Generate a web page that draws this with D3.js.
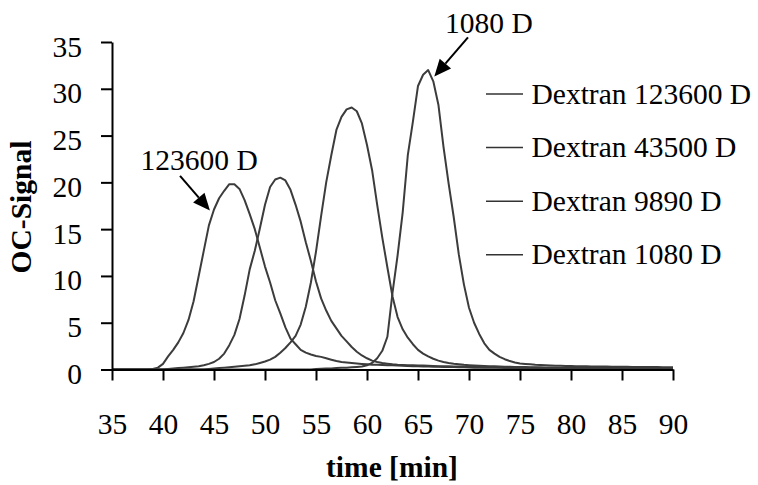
<!DOCTYPE html>
<html>
<head>
<meta charset="utf-8">
<script src="https://cdn.jsdelivr.net/npm/d3@7"></script>
<style>
  html, body { margin: 0; padding: 0; background: #fff; }
  svg text { font-family: "Liberation Serif", "Times New Roman", serif; fill: #000; }
</style>
</head>
<body>
<svg id="chart" width="758" height="485"></svg>
<script>
// ---- data ----
const times = [
  35,35.5,36,36.5,37,37.5,38,38.5,39,39.5,
  40,40.5,41,41.5,42,42.5,43,43.5,44,44.5,
  45,45.5,46,46.5,47,47.5,48,48.5,49,49.5,
  50,50.5,51,51.5,52,52.5,53,53.5,54,54.5,
  55,55.5,56,56.5,57,57.5,58,58.5,59,59.5,
  60,60.5,61,61.5,62,62.5,63,63.5,64,64.5,
  65,65.5,66,66.5,67,67.5,68,68.5,69,69.5,
  70,70.5,71,71.5,72,72.5,73,73.5,74,74.5,
  75,75.5,76,76.5,77,77.5,78,78.5,79,79.5,
  80,80.5,81,81.5,82,82.5,83,83.5,84,84.5,
  85,85.5,86,86.5,87,87.5,88,88.5,89,89.5,
  90
];
const dextran123600 = [
  0,0,0,0,0,0,0,0,0.05,0.2,
  0.6,1.4,2.1,2.9,3.9,5.3,7.3,10.0,12.7,15.4,
  17.1,18.3,19.1,19.8,19.8,19.3,18.1,16.6,15.0,13.0,
  11.0,9.3,7.4,6.0,4.5,3.3,2.7,2.1,1.8,1.6,
  1.45,1.35,1.2,1.05,0.9,0.8,0.75,0.7,0.65,0.6,
  0.55,0.5,0.5,0.48,0.45,0.45,0.42,0.4,0.38,0.36,
  0.35,0.33,0.32,0.3,0.3,0.28,0.27,0.26,0.25,0.24,
  0.22,0.2,0.2,0.2,0.19,0.18,0.18,0.17,0.17,0.16,
  0.16,0.15,0.15,0.15,0.14,0.14,0.13,0.13,0.13,0.12,
  0.12,0.12,0.11,0.11,0.11,0.1,0.1,0.1,0.1,0.1,
  0.1,0.09,0.09,0.09,0.09,0.08,0.08,0.08,0.08,0.08,
  0.08
];
const dextran43500 = [
  0,0,0,0,0,0,0,0,0,0,
  0,0.05,0.1,0.15,0.2,0.25,0.3,0.35,0.45,0.6,
  0.8,1.15,1.7,2.6,3.7,5.4,7.9,10.7,12.7,15.1,
  17.6,19.5,20.3,20.5,20.2,19.2,17.6,15.8,13.6,11.6,
  9.4,7.6,6.3,5.2,4.4,3.6,3.0,2.4,1.9,1.5,
  1.2,0.95,0.8,0.7,0.62,0.55,0.5,0.48,0.46,0.45,
  0.44,0.42,0.4,0.38,0.36,0.35,0.34,0.33,0.32,0.31,
  0.3,0.28,0.26,0.25,0.24,0.23,0.22,0.21,0.2,0.2,
  0.19,0.19,0.18,0.18,0.17,0.17,0.16,0.16,0.15,0.15,
  0.15,0.14,0.14,0.13,0.13,0.13,0.12,0.12,0.12,0.11,
  0.11,0.11,0.1,0.1,0.1,0.1,0.1,0.09,0.09,0.09,
  0.09
];
const dextran9890 = [
  0,0,0,0,0,0,0,0,0,0,
  0,0,0,0,0,0,0,0,0,0.05,
  0.1,0.15,0.2,0.25,0.3,0.35,0.4,0.45,0.55,0.7,
  0.85,1.05,1.35,1.8,2.3,2.9,3.6,4.8,6.7,9.3,
  12.6,16.4,20.0,22.9,25.6,27.0,27.8,28.0,27.6,26.3,
  24.0,21.3,17.6,14.1,10.9,7.8,5.6,4.3,3.4,2.7,
  2.1,1.7,1.4,1.15,0.95,0.8,0.7,0.62,0.56,0.5,
  0.46,0.43,0.4,0.38,0.36,0.34,0.32,0.3,0.29,0.28,
  0.27,0.26,0.25,0.24,0.23,0.22,0.21,0.2,0.2,0.19,
  0.19,0.18,0.18,0.17,0.17,0.16,0.16,0.15,0.15,0.15,
  0.14,0.14,0.14,0.13,0.13,0.13,0.12,0.12,0.12,0.12,
  0.11
];
const dextran1080 = [
  0,0,0,0,0,0,0,0,0,0,
  0,0,0,0,0,0,0,0,0,0,
  0,0,0,0,0,0,0,0,0,0,
  0,0,0,0,0,0,0,0,0,0,
  0.05,0.08,0.1,0.12,0.15,0.18,0.2,0.23,0.27,0.32,
  0.45,0.7,1.2,2.0,3.5,8.2,12.2,16.8,22.9,26.5,
  30.3,31.5,32.0,30.8,28.3,23.8,19.9,16.3,12.3,9.1,
  6.6,5.0,3.8,2.8,2.1,1.7,1.35,1.1,0.9,0.75,
  0.65,0.6,0.55,0.5,0.47,0.45,0.43,0.41,0.4,0.38,
  0.37,0.36,0.35,0.34,0.33,0.32,0.32,0.31,0.3,0.3,
  0.29,0.29,0.28,0.28,0.27,0.27,0.26,0.26,0.25,0.25,
  0.25
];
const seriesNames = ["Dextran 123600 D", "Dextran 43500 D", "Dextran 9890 D", "Dextran 1080 D"];
const seriesValues = [dextran123600, dextran43500, dextran9890, dextran1080];
const xTicks = [35,40,45,50,55,60,65,70,75,80,85,90];
const yTicks = [0,5,10,15,20,25,30,35];
// annotations: [label, textX, textY, arrowFromX, arrowFromY, arrowToX, arrowToY] in data units
const annotations = [
  ["123600 D", 37.8, 21.3, 41.67, 20.7, 44.6, 17.0],
  ["1080 D", 67.65, 36.0, 69.9, 35.5, 66.6, 31.3]
];

// ---- layout ----
const svg = d3.select("#chart");
const FS = 29.5;
const x = d3.scaleLinear().domain([35, 90]).range([112, 673]);
const y = d3.scaleLinear().domain([0, 35]).range([369.5, 42]);
const lineColor = "#3c3c3c";

// curves
const line = d3.line().x((d, i) => x(times[i])).y(d => y(d));
seriesValues.forEach(vals => {
  svg.append("path")
    .attr("d", line(vals))
    .attr("fill", "none")
    .attr("stroke", lineColor)
    .attr("stroke-width", 2)
    .attr("stroke-linejoin", "round");
});

// axes
const yAxis = svg.append("g").attr("transform", `translate(${x(35)},0)`)
  .call(d3.axisLeft(y).tickValues(yTicks).tickFormat(d3.format("d")).tickSize(11).tickSizeOuter(0).tickPadding(19));
yAxis.selectAll("text").attr("dy", 14).style("font-size", FS + "px");

const xAxis = svg.append("g").attr("transform", `translate(0,${y(0)})`)
  .call(d3.axisBottom(x).tickValues(xTicks).tickFormat(d3.format("d")).tickSize(11).tickSizeOuter(0));
xAxis.selectAll("text").attr("y", 64.5).attr("dy", 0).style("font-size", FS + "px");

[yAxis, xAxis].forEach(g => {
  g.select(".domain").attr("stroke", "#000").attr("stroke-width", 2);
  g.selectAll(".tick line").attr("stroke", "#000").attr("stroke-width", 2);
  g.selectAll("text").attr("fill", "#000").style("font-family", '"Liberation Serif", "Times New Roman", serif');
});

// axis titles
svg.append("text")
  .attr("x", 392).attr("y", 477)
  .attr("text-anchor", "middle")
  .style("font-size", FS + "px").style("font-weight", "bold")
  .text("time [min]");
svg.append("text")
  .attr("transform", "translate(31,207) rotate(-90)")
  .attr("text-anchor", "middle")
  .style("font-size", FS + "px").style("font-weight", "bold")
  .text("OC-Signal");

// legend
const legend = svg.append("g");
seriesNames.forEach((name, i) => {
  const ly = 94 + i * 53.6;
  legend.append("line")
    .attr("x1", 486).attr("x2", 523).attr("y1", ly).attr("y2", ly)
    .attr("stroke", "#333").attr("stroke-width", 1.5);
  legend.append("text")
    .attr("x", 531.5).attr("y", ly + 9.5)
    .style("font-size", FS + "px")
    .text(name);
});

// annotations with arrows
annotations.forEach(a => {
  const [label, tx, ty, fx, fy, ax, ay] = a;
  svg.append("text").attr("x", x(tx)).attr("y", y(ty))
    .style("font-size", FS + "px").text(label);
  const x0 = x(fx), y0 = y(fy), x1 = x(ax), y1 = y(ay);
  const ang = Math.atan2(y1 - y0, x1 - x0);
  const hl = 17, hw = 7.5;
  const bx = x1 - hl * Math.cos(ang), by = y1 - hl * Math.sin(ang);
  svg.append("line").attr("x1", x0).attr("y1", y0).attr("x2", bx).attr("y2", by)
    .attr("stroke", "#000").attr("stroke-width", 2);
  const px = -Math.sin(ang), py = Math.cos(ang);
  svg.append("path")
    .attr("d", `M${x1},${y1}L${bx + hw * px},${by + hw * py}L${bx - hw * px},${by - hw * py}Z`)
    .attr("fill", "#000");
});
</script>
</body>
</html>
